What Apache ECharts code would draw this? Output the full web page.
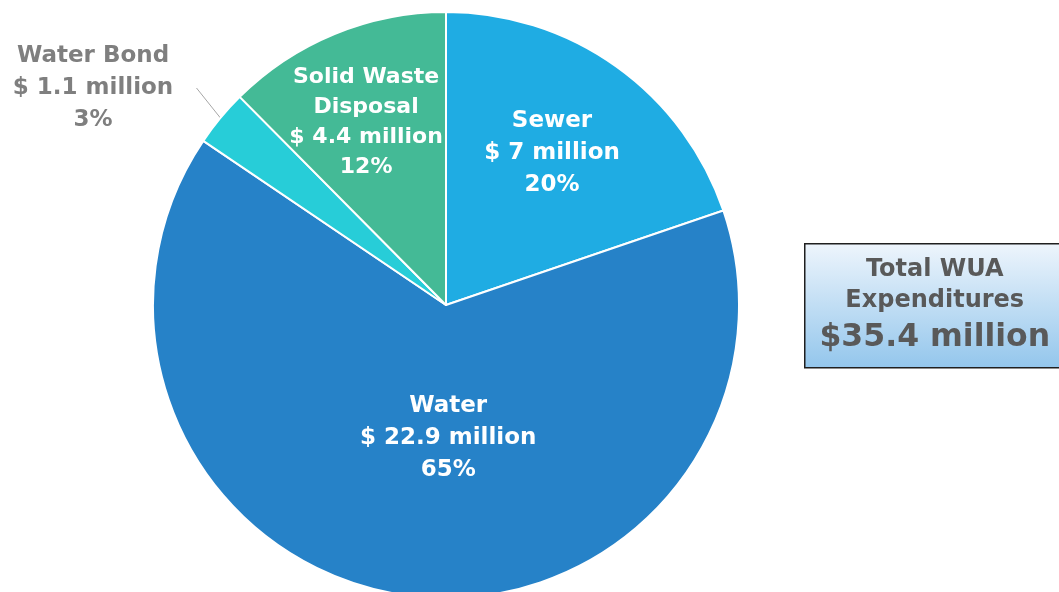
<!DOCTYPE html>
<html>
<head>
<meta charset="utf-8">
<script src="https://cdn.jsdelivr.net/npm/echarts@6/dist/echarts.min.js"></script>
<style>
html,body{margin:0;padding:0;background:#fff;}
#chart{width:1059px;height:592px;}
</style>
</head>
<body>
<div id="chart"></div>
<script>
const categories = ["Sewer", "Water", "Water Bond", "Solid Waste\nDisposal"];
const values = [7, 22.9, 1.1, 4.4];
const totalLabel = "$35.4 million";
const boxTitle = ["Total WUA", "Expenditures"];

const colors = ["#1FACE3", "#2682C8", "#27CDD8", "#44BA96"];
// label offsets (styling only)
const labelOffsets = [[19, -30], [22, -15], [0, 0], [-23, -44]];

const chart = echarts.init(document.getElementById('chart'), null, {renderer: 'canvas'});

const data = categories.map((c, i) => {
  const d = {
    name: c,
    value: values[i],
    itemStyle: {color: colors[i]}
  };
  if (c === "Water Bond") {
    d.label = {
      position: 'outside',
      color: '#7F7F7F',
      align: 'center',
      overflow: 'none',
      width: 163,
      padding: [0, 22, 0, 0]
    };
    d.labelLine = {show: true, length: 36, length2: 0, lineStyle: {color: '#A6A6A6', width: 1}};
  }
  if (c.indexOf("Solid") === 0) {
    d.label = {lineHeight: 30, fontSize: 22};
  }
  return d;
});

chart.setOption({
  animation: false,
  series: [{
    type: 'pie',
    center: [446, 305],
    radius: [0, 293],
    startAngle: 90,
    clockwise: true,
    data: data,
    itemStyle: {borderColor: '#ffffff', borderWidth: 2},
    label: {
      show: true,
      position: 'inside',
      color: '#ffffff',
      fontFamily: 'DejaVu Sans',
      fontWeight: 'bold',
      fontSize: 23,
      lineHeight: 32,
      align: 'center',
      formatter: p => `${p.name}\n$ ${p.value} million\n${Math.round(p.percent)}%`
    },
    labelLine: {show: false},
    labelLayout: function (params) {
      const i = params.dataIndex;
      if (categories[i] === "Water Bond") {
        return {x: 104, y: 88, align: 'center', verticalAlign: 'middle'};
      }
      return {dx: labelOffsets[i][0], dy: labelOffsets[i][1]};
    }
  }],
  graphic: [{
    type: 'group',
    left: 804,
    top: 243,
    children: [{
      type: 'rect',
      shape: {x: 0, y: 0, width: 262, height: 124},
      style: {
        fill: new echarts.graphic.LinearGradient(0, 0, 0, 1, [
          {offset: 0, color: '#EEF5FC'},
          {offset: 1, color: '#93C6EC'}
        ]),
        stroke: '#1F1F1F',
        lineWidth: 1.5
      }
    }, {
      type: 'text',
      x: 130,
      y: 63,
      style: {
        text: '{t|' + boxTitle[0] + '}\n{t|' + boxTitle[1] + '}\n{b|' + totalLabel + '}',
        align: 'center',
        verticalAlign: 'middle',
        rich: {
          t: {fontFamily: 'DejaVu Sans', fontWeight: 'bold', fontSize: 24, lineHeight: 31, fill: '#595959', align: 'center'},
          b: {fontFamily: 'DejaVu Sans', fontWeight: 'bold', fontSize: 31.5, lineHeight: 42, fill: '#595959', align: 'center'}
        }
      }
    }]
  }]
});
</script>
</body>
</html>
